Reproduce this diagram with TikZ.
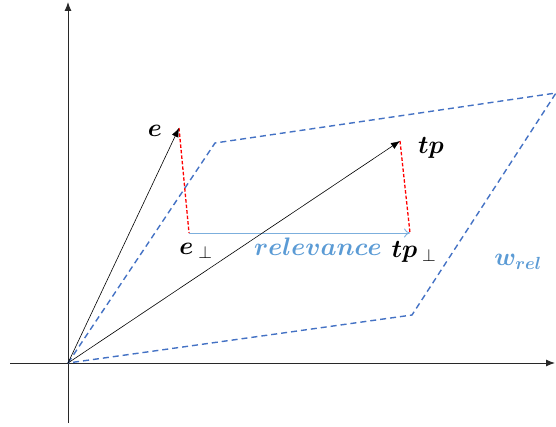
\documentclass[tikz,border=0pt]{standalone}
\usepackage{amsmath,bm,graphicx}
\usetikzlibrary{arrows.meta}
\definecolor{pblue}{RGB}{68,114,196}
\definecolor{lblue}{RGB}{91,155,213}
\definecolor{axgray}{RGB}{40,40,40}
\newcommand{\biglab}[1]{\scalebox{1.22}{\fontsize{20}{22}\selectfont #1}}
\begin{document}
\begin{tikzpicture}[x=1pt,y=-1pt,
  axis/.style={axgray,line width=1pt,-{Latex[length=9pt,width=7pt]}},
  vec/.style={black,line width=0.6pt,-{Latex[length=9pt,width=7pt]}},
  para/.style={pblue,line width=1.4pt,dash pattern=on 6pt off 4pt},
  proj/.style={red,line width=1.3pt,dash pattern=on 3.5pt off 2pt},
  rel/.style={lblue!80,line width=0.9pt,-{To[length=6pt,width=9pt]}},
  lab/.style={inner sep=0pt}]
\useasboundingbox (0,0) rectangle (556,427);
% coordinates
\coordinate (O) at (68,363);
\coordinate (yt) at (68,2);
\coordinate (yb) at (68,423);
\coordinate (xl) at (10,363);
\coordinate (xr) at (555,363);
\coordinate (E) at (179,128);
\coordinate (EP) at (189,233);
\coordinate (TP) at (400,141);
\coordinate (TPP) at (410,233);
\coordinate (P1) at (215,143);
\coordinate (P2) at (556,93);
\coordinate (P3) at (412,315);
% axes
\draw[axis] (yb) -- (yt);
\draw[axis] (xl) -- (xr);
% parallelogram
\draw[para] (O) -- (P1) -- (P2) -- (P3) -- (O);
% projections
\draw[proj] (E) -- (EP);
\draw[proj] (TP) -- (TPP);
% relevance arrow
\draw[rel] (EP) -- (TPP);
% vectors
\draw[vec] (O) -- (E);
\draw[vec] (O) -- (TP);
% labels
\node[lab] (le) at (155,131) {\biglab{$\bm{e}$}};
\node[lab] (ltp) at (431,148) {\biglab{$\bm{tp}$}};
\node[lab] (lep) at (196,251) {\biglab{$\bm{e}_{\;\perp}$}};
\node[lab,text=lblue] (lrel) at (318,247) {\biglab{$\bm{relevance}$}};
\node[lab] (ltpp) at (414,252) {\biglab{$\bm{tp}_{\;\perp}$}};
\node[lab,text=lblue] (lw) at (518,262) {\biglab{$\bm{w}_{\bm{rel}}$}};
\end{tikzpicture}
\end{document}
